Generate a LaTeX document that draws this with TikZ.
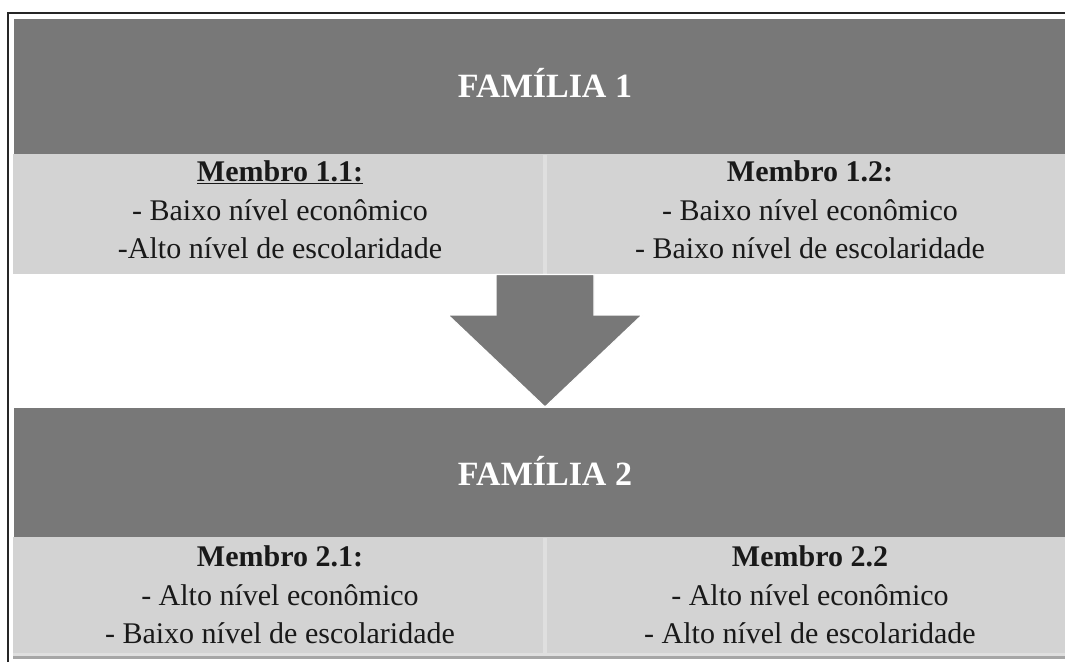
\documentclass[tikz,border=0pt]{standalone}
\usepackage{fontspec}
\setmainfont{Liberation Serif}
\definecolor{darkband}{RGB}{120,120,120}
\definecolor{lightband}{RGB}{211,211,211}
\definecolor{divider}{RGB}{223,223,223}
\definecolor{inktext}{RGB}{25,25,25}
\begin{document}
\begin{tikzpicture}[x=1pt,y=-1pt,
  titletext/.style={text=white,font=\fontsize{34}{40}\selectfont\bfseries,inner sep=0pt,anchor=base},
  membertext/.style={text=inktext,font=\fontsize{30}{38.5}\selectfont,align=center,inner sep=0pt,anchor=center}]
\useasboundingbox (0,0) rectangle (1065,662);
% family 1
\fill[darkband] (14,19) rectangle (1065,154);
\fill[lightband] (13,154) rectangle (1065,274);
\fill[divider] (543,155) rectangle (547,274);
% family 2
\fill[darkband] (14,408) rectangle (1065,537);
\fill[lightband] (13,537) rectangle (1065,654);
\fill[divider] (543,538) rectangle (547,654);
\fill[divider] (13,653) rectangle (1065,656);
\fill[gray!70] (13,656) rectangle (1065,659);
% arrow
\filldraw[fill=darkband,draw=white,line width=1.2pt,line join=miter]
  (496,274.5) -- (594,274.5) -- (594,315) -- (642,315) -- (545,407) -- (448,315) -- (496,315) -- cycle;
% frame
\draw[line width=1.5pt,black!85] (8,662) -- (8,13) -- (1065,13);
% texts
\node[titletext] (f1) at (545,97) {FAMÍLIA 1};
\node[titletext] (f2) at (545,485) {FAMÍLIA 2};
\node[membertext] (m11) at (280,210) {\textbf{\underline{Membro 1.1:}}\\- Baixo nível econômico\\-Alto nível de escolaridade};
\node[membertext] (m12) at (810,210) {\textbf{Membro 1.2:}\\- Baixo nível econômico\\- Baixo nível de escolaridade};
\node[membertext] (m21) at (280,595) {\textbf{Membro 2.1:}\\- Alto nível econômico\\- Baixo nível de escolaridade};
\node[membertext] (m22) at (810,595) {\textbf{Membro 2.2}\\- Alto nível econômico\\- Alto nível de escolaridade};
\end{tikzpicture}
\end{document}
